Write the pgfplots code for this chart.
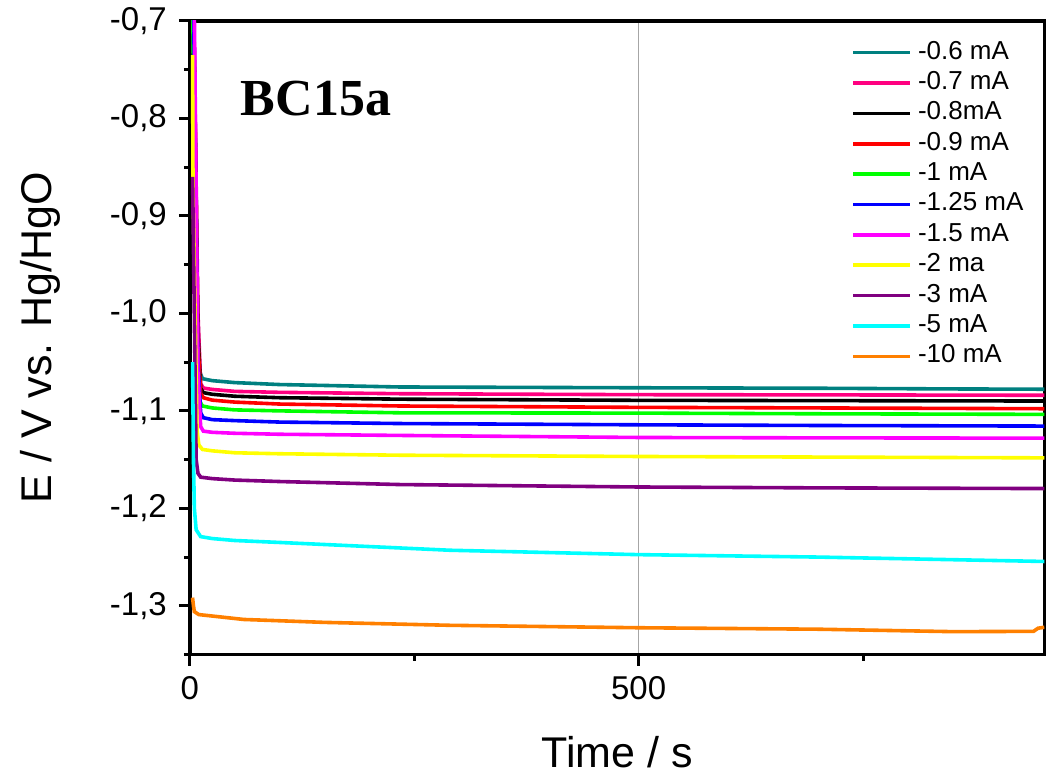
\documentclass[border=0pt]{standalone}
\usepackage{pgfplots}
\pgfplotsset{compat=1.18}
\usepackage{fontspec}
\setmainfont{Liberation Sans}
\newfontfamily\timesfont{Liberation Serif}
\definecolor{cTeal}{HTML}{008080}
\definecolor{cPink}{HTML}{FF0080}
\definecolor{cRed}{HTML}{FF0000}
\definecolor{cGreen}{HTML}{00FF00}
\definecolor{cBlue}{HTML}{0000FF}
\definecolor{cMag}{HTML}{FF00FF}
\definecolor{cYel}{HTML}{FFFF00}
\definecolor{cPur}{HTML}{800080}
\definecolor{cCyan}{HTML}{00FFFF}
\definecolor{cOra}{HTML}{FF8000}

\begin{document}
\begin{tikzpicture}
\begin{axis}[
  scale only axis, width=427.5pt, height=317pt,
  xmin=0, xmax=952, ymin=-1.35, ymax=-0.7,
  axis line style={line width=1.7pt},
  tick style={line width=1.5pt, black},
  tick align=outside,
  xtick pos=left, ytick pos=left,
  major tick length=5.5pt, minor tick length=3pt,
  xtick={0,500}, minor xtick={250,750},
  ytick={-1.3,-1.2,...,-0.65}, minor ytick={-1.35,-1.25,-1.15,-1.05,-0.95,-0.85,-0.75},
  xmajorgrids, major grid style={gray!70, line width=0.8pt},
  ticklabel style={font=\fontsize{16.5}{19}\selectfont},
  /pgf/number format/assume math mode=true,
  yticklabel style={xshift=-2.5pt, /pgf/number format/.cd, use comma, fixed, fixed zerofill, precision=1},
  xticklabel style={yshift=-2pt},
  xlabel={Time / s}, ylabel={E / V vs. Hg/HgO},
  label style={font=\fontsize{21.5}{25}\selectfont},
  xlabel style={at={(axis description cs:0.5,-0.178)}, anchor=base},
  ylabel style={at={(axis description cs:-0.1754,0.5)}, anchor=center},
  every axis plot post/.append style={line width=1.8pt},
  legend image code/.code={\draw[#1] (0pt,0pt) -- (28.5pt,0pt);},
  legend cell align=left,
  legend style={draw=none, fill=none, inner sep=0pt, outer sep=0pt,
    at={(0.7743,0.973)}, anchor=north west,
    font=\fontsize{13}{15}\selectfont, row sep=0.7pt,
    nodes={inner sep=1.5pt, text height=9pt, text depth=2.5pt},
    /tikz/every odd column/.append style={column sep=1.5pt}},
]
\addplot[cTeal] coordinates {(2,-0.60) (8,-0.98) (11,-1.060) (14,-1.067) (25,-1.069) (50,-1.071) (100,-1.073) (234,-1.0755) (500,-1.0763) (700,-1.0768) (850,-1.0775) (952,-1.0778)};
\addlegendentry{-0.6 mA}
\addplot[cPink] coordinates {(3,-0.60) (9,-1.00) (12,-1.072) (15,-1.0766) (25,-1.078) (50,-1.080) (100,-1.081) (234,-1.0824) (500,-1.0834) (700,-1.0836) (952,-1.084)};
\addlegendentry{-0.7 mA}
\addplot[black] coordinates {(3,-0.60) (9,-1.02) (12,-1.077) (15,-1.0813) (25,-1.083) (50,-1.085) (100,-1.0865) (234,-1.088) (500,-1.0892) (700,-1.0895) (952,-1.0899)};
\addlegendentry{-0.8mA}
\addplot[cRed] coordinates {(3,-0.60) (9,-1.03) (12,-1.082) (15,-1.0865) (25,-1.089) (50,-1.091) (100,-1.093) (234,-1.095) (500,-1.0964) (700,-1.097) (952,-1.0978)};
\addlegendentry{-0.9 mA}
\addplot[cGreen] coordinates {(2,-0.60) (8,-1.04) (11,-1.090) (14,-1.095) (25,-1.097) (50,-1.099) (100,-1.100) (234,-1.102) (500,-1.1023) (700,-1.103) (952,-1.1036)};
\addlegendentry{-1 mA}
\addplot[cBlue] coordinates {(3,-0.60) (9,-1.05) (12,-1.102) (15,-1.107) (25,-1.109) (50,-1.110) (100,-1.1115) (234,-1.113) (500,-1.1143) (700,-1.115) (952,-1.1156)};
\addlegendentry{-1.25 mA}
\addplot[cMag] coordinates {(4,-0.60) (9,-1.06) (12,-1.116) (15,-1.1208) (25,-1.122) (50,-1.123) (100,-1.124) (234,-1.1252) (500,-1.1273) (700,-1.1277) (952,-1.128)};
\addlegendentry{-1.5 mA}
\addplot[cYel] coordinates {(3,-0.735) (3.5,-0.87) (8,-1.12) (10,-1.135) (14,-1.1396) (25,-1.141) (50,-1.143) (100,-1.144) (234,-1.1455) (500,-1.1468) (700,-1.1474) (952,-1.1482)};
\addlegendentry{-2 ma}
\addplot[cPur] coordinates {(3,-0.86) (7,-1.15) (9,-1.164) (12,-1.168) (25,-1.1695) (50,-1.171) (100,-1.1725) (234,-1.1756) (500,-1.1781) (700,-1.179) (952,-1.1797)};
\addlegendentry{-3 mA}
\addplot[cCyan] coordinates {(3,-1.05) (4,-1.15) (5,-1.2) (7,-1.222) (12,-1.229) (25,-1.231) (50,-1.233) (100,-1.235) (290,-1.243) (500,-1.2475) (700,-1.250) (952,-1.2545)};
\addlegendentry{-5 mA}
\addplot[cOra] coordinates {(3,-1.2916) (4,-1.300) (5,-1.306) (10,-1.309) (30,-1.311) (60,-1.314) (150,-1.317) (290,-1.320) (500,-1.3225) (700,-1.324) (850,-1.3265) (940,-1.3262) (945,-1.323) (952,-1.322)};
\addlegendentry{-10 mA}
\node[anchor=base west, font=\timesfont\bfseries\fontsize{26}{30}\selectfont] at (axis cs:49,-0.7967) {BC15a};
\end{axis}
\path (current axis.south west) ++(-95pt,-61pt) (current axis.north east) ++(0.5pt,10.5pt);
\end{tikzpicture}
\end{document}
